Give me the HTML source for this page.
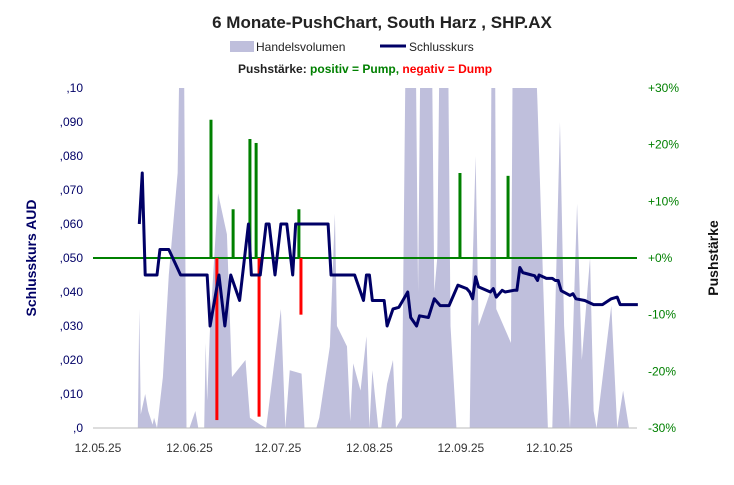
<!DOCTYPE html>
<html><head><meta charset="utf-8"><style>
body{margin:0;background:#fff;}
svg text{font-family:"Liberation Sans",Arial,sans-serif;}
</style></head><body>
<svg id="chart" width="734" height="480" viewBox="0 0 734 480">
<defs><clipPath id="plotclip"><rect x="93" y="88" width="545" height="341"/></clipPath></defs>
<text x="382" y="28" text-anchor="middle" font-size="17" font-weight="bold" fill="#222">6 Monate-PushChart,  South Harz , SHP.AX</text>
<rect x="230" y="41" width="24" height="11" fill="#bfbfdc"/>
<text x="256" y="51" font-size="12" fill="#222">Handelsvolumen</text>
<line x1="380" y1="46" x2="406" y2="46" stroke="#000066" stroke-width="3"/>
<text x="409" y="51" font-size="12" fill="#222">Schlusskurs</text>
<text x="238" y="73" font-size="12" font-weight="bold"><tspan fill="#222">Pushstärke:  </tspan><tspan fill="#008000">positiv = Pump,  </tspan><tspan fill="#ff0000">negativ = Dump</tspan></text>
<text transform="translate(36,258) rotate(-90)" text-anchor="middle" font-size="14" font-weight="bold" fill="#000066">Schlusskurs AUD</text>
<text transform="translate(718,258) rotate(-90)" text-anchor="middle" font-size="14" font-weight="bold" fill="#111">Pushstärke</text>
<g id="vol" clip-path="url(#plotclip)"></g>
<g id="axes"></g>
<g id="push"></g>
<g id="price"></g>
</svg>
<script>
const volDays=[13.5,14,14.5,16,17,18.5,19,20,22,24,27,28,29,30,31,33,34,36,36.5,37,38,40.7,43.7,45.4,50,51.5,55,57,62,63.5,65,69,70,74,75,78.6,80.3,81,84.4,85.5,86.5,89,91,92,93,95,96,98,100,101,103,104.5,107.5,108.5,109.5,113,114,115,116,118.5,119.5,121.5,126,126.5,128,129,133,133.5,134.5,135,140,140.7,147.5,149,151,152.5,154,156.6,158,160,162.4,164,166.8,168,169,174,176,178,180];
const volValues=[0,35,4,10,5,1,3,0,15,45,75,130,130,0,0,5,0,0,25,8,30,69,57,15,20,3,1,0,35,0,17,16,0,0,3,24,63,30,24,2,19,11,27,0,17,0,0,13,20,0,3,130,130,40,130,130,40,50,130,130,30,0,0,32,80,30,40,130,130,35,25,130,130,95,40,0,0,90,30,0,66,20,50,5,0,36,0,11,0];
const priceDays=[14,15,16,20,21,24,28,37,38,41,43,45,48,51,52,55,57,58,60,62,64,66,67,68,78,79,87,90,91,92,93,97,98,100,102,105,106,108,109,112,114,116,119,121,122,125,126,127,128,129,133,134,135,137,138,141,142,143,144,147,148,149,149.5,152,154,155,156,157,160,161,162,165,168,171,174,176,177,183];
const priceValues=[0.060,0.075,0.045,0.045,0.0525,0.0525,0.045,0.045,0.030,0.045,0.030,0.045,0.0375,0.060,0.045,0.045,0.060,0.060,0.045,0.060,0.060,0.045,0.060,0.060,0.060,0.045,0.045,0.0375,0.045,0.045,0.0375,0.0375,0.030,0.035,0.0355,0.040,0.0325,0.030,0.033,0.0325,0.038,0.036,0.036,0.040,0.042,0.041,0.040,0.038,0.0445,0.0415,0.040,0.041,0.0385,0.0405,0.040,0.0405,0.0405,0.0472,0.0457,0.045,0.0448,0.0434,0.045,0.044,0.044,0.0434,0.0434,0.0404,0.039,0.0395,0.038,0.0375,0.0363,0.0363,0.038,0.0385,0.0363,0.0363];
const pushDays=[38.3,45.8,51.5,53.6,68.1,122.7,139,40.3,54.6,68.8];
const pushValues=[24.4,8.6,21,20.3,8.6,15,14.5,-28.6,-28,-10];
const leftTicks=[",0",",010",",020",",030",",040",",050",",060",",070",",080",",090",",10"];
const rightTicks=["-30%","-20%","-10%","+0%","+10%","+20%","+30%"];
const xTickLabels=["12.05.25","12.06.25","12.07.25","12.08.25","12.09.25","12.10.25"];
const xTickDays=[0,31,61,92,123,153];

const NS="http://www.w3.org/2000/svg";
const X0=93,X1=637,YT=88,YB=428;
const xs=d=>98+d*2.95;
const yPrice=p=>YB-(p/0.1)*(YB-YT);
const yVol=v=>YB-(v/100)*(YB-YT);
const yPush=v=>258-(v/30)*170;
function mk(tag,attrs,parent){const e=document.createElementNS(NS,tag);for(const k in attrs)e.setAttribute(k,attrs[k]);parent.appendChild(e);return e;}

const vol=document.getElementById('vol');
let pts=[[xs(volDays[0]),YB]];
volDays.forEach((d,i)=>pts.push([xs(d),yVol(volValues[i])]));
pts.push([xs(volDays[volDays.length-1]),YB]);
const vp=mk('polygon',{points:pts.map(p=>p.join(',')).join(' '),fill:'#bfbfdc'},vol);



const axes=document.getElementById('axes');
const base=mk('line',{x1:X0,y1:YB,x2:X1,y2:YB,stroke:'#bbb','stroke-width':1},axes);


leftTicks.forEach((t,i)=>{const e=mk('text',{x:83,y:yPrice(i*0.01)+4,'text-anchor':'end','font-size':12,fill:'#000066'},axes);e.textContent=t;

});
rightTicks.forEach((t,i)=>{const e=mk('text',{x:648,y:yPush(-30+i*10)+4,'font-size':12,fill:'#008000'},axes);e.textContent=t;

});
xTickLabels.forEach((t,i)=>{const e=mk('text',{x:xs(xTickDays[i]),y:452,'text-anchor':'middle','font-size':12,fill:'#333'},axes);e.textContent=t;

});

const push=document.getElementById('push');
const zl=mk('line',{x1:X0,y1:yPush(0),x2:X1,y2:yPush(0),stroke:'#008000','stroke-width':2},push);


pushDays.forEach((d,i)=>{const v=pushValues[i];const y0=yPush(0),y1=yPush(v);
const r=mk('rect',{x:xs(d)-1.5,y:Math.min(y0,y1),width:3,height:Math.abs(y1-y0),fill:v>=0?'#008000':'#ff0000'},push);

});

const price=document.getElementById('price');
const pl=mk('polyline',{points:priceDays.map((d,i)=>xs(d)+','+yPrice(priceValues[i])).join(' '),fill:'none',stroke:'#000066','stroke-width':3,'stroke-linejoin':'round'},price);


</script>
</body></html>
